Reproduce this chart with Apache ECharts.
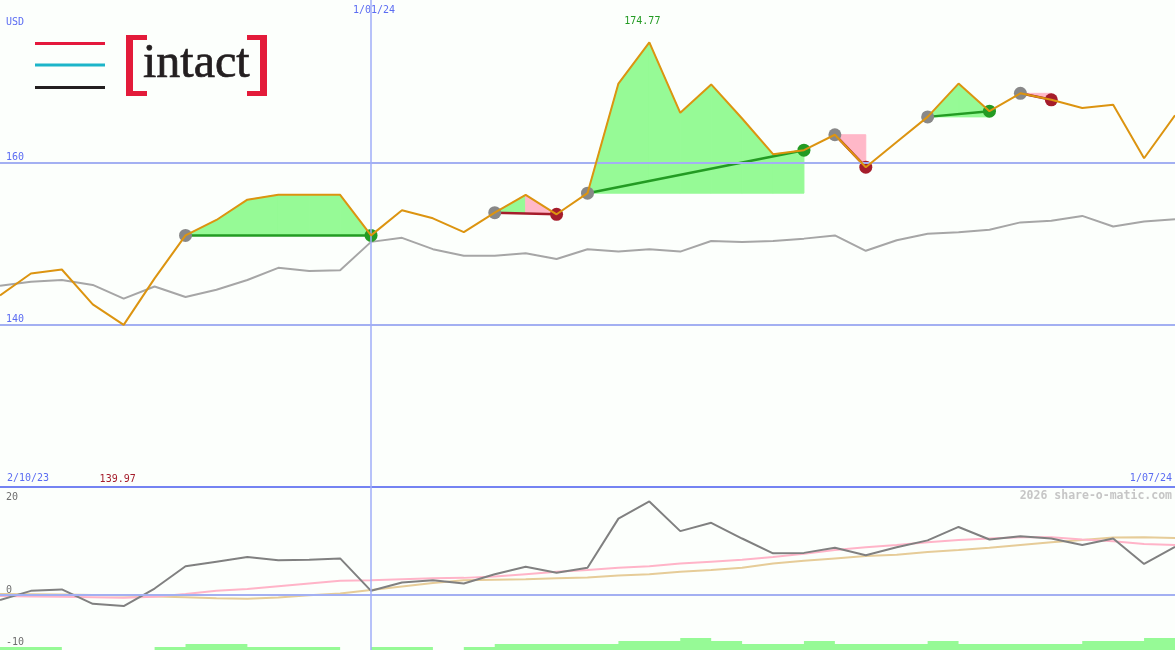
<!DOCTYPE html>
<html><head><meta charset="utf-8">
<script src="https://cdn.jsdelivr.net/npm/echarts@6/dist/echarts.min.js"></script>
<style>html,body{margin:0;padding:0;background:#fcfffc;}#c{width:1175px;height:650px;}</style>
</head><body><div id="c"></div><script>
// ---- data (weekly points, index 0..38) ----
const xTickIdx = [0, 38];
const xTickLbl = ['2/10/23', '1/07/24'];
const xMarkIdx = [12];
const xMarkLbl = ['1/01/24'];
const priceTicks = [140, 160];
const oscTicks = [20, 0, -10];
const price = [143.6, 146.3, 146.8, 142.5, 139.97, 145.7, 151.0, 152.9, 155.4, 156.0,
  156.0, 156.0, 151.0, 154.1, 153.1, 151.4, 153.8, 156.0, 153.6, 156.2,
  169.7, 174.77, 166.1, 169.6, 165.4, 161.0, 161.5, 163.4, 159.4, 162.5,
  165.6, 169.7, 166.3, 168.5, 167.7, 166.7, 167.1, 160.5, 165.8];
const avg = [144.8, 145.3, 145.5, 144.9, 143.2, 144.7, 143.4, 144.3, 145.5, 147.0,
  146.6, 146.7, 150.2, 150.7, 149.3, 148.5, 148.5, 148.8, 148.1, 149.3,
  149.0, 149.3, 149.0, 150.3, 150.2, 150.3, 150.6, 151.0, 149.1, 150.4,
  151.2, 151.4, 151.7, 152.6, 152.8, 153.4, 152.1, 152.7, 153.0];
const osc = [-1.1, 0.9, 1.2, -1.9, -2.4, 1.4, 6.2, 7.2, 8.2, 7.5,
  7.6, 7.9, 0.9, 2.7, 3.2, 2.5, 4.5, 6.1, 4.8, 5.9,
  16.5, 20.2, 13.8, 15.6, 12.2, 9.0, 9.1, 10.2, 8.6, 10.3,
  11.8, 14.7, 12.0, 12.7, 12.2, 10.8, 12.2, 6.7, 10.4];
const oscFast = [-0.2, -0.3, -0.4, -0.5, -0.6, -0.4, 0.2, 0.9, 1.3, 1.9,
  2.5, 3.1, 3.2, 3.4, 3.6, 3.7, 4.0, 4.5, 5.0, 5.4,
  5.9, 6.2, 6.8, 7.2, 7.6, 8.2, 8.9, 9.7, 10.3, 10.8,
  11.4, 11.9, 12.2, 12.5, 12.5, 12.0, 11.6, 11.0, 10.8];
const oscSlow = [0.2, 0.15, 0.1, 0.0, -0.1, -0.35, -0.5, -0.7, -0.8, -0.55,
  -0.05, 0.35, 1.1, 1.85, 2.6, 3.2, 3.3, 3.4, 3.6, 3.8,
  4.2, 4.5, 5.0, 5.4, 5.9, 6.8, 7.4, 7.9, 8.4, 8.7,
  9.3, 9.7, 10.2, 10.8, 11.4, 11.9, 12.4, 12.5, 12.3];
const volume = [1, 1, 0, 0, 0, 1, 2, 2, 1, 1, 1, 0, 1, 1, 0, 1, 2, 2, 2, 2,
  3, 3, 4, 3, 2, 2, 3, 2, 2, 2, 3, 2, 2, 2, 2, 3, 3, 4];
const tradeEntry = [6, 16, 19, 27, 30, 33];
const tradeExit = [12, 18, 26, 28, 32, 34];

// ---- styles ----
const MONO = "'DejaVu Sans Mono', monospace";
const BLUE = '#5b6cf2', GRIDC = '#a3b0f2', VLINE = '#a0aef8', WIN = '#239b23', LOSS = '#a51d2b';
const OS_MIN = -11.88, OS_MAX = 23.33;
const N = price.length - 1;
const oscLow = Math.min(...oscTicks);
const oscLabelPos = v => (v === oscLow ? OS_MIN + 0.5 : v); // lowest label sits at the panel bottom

const segs = [];
tradeEntry.forEach((e, k) => {
  for (let i = e; i < tradeExit[k]; i++) segs.push([i, i + 1, price[e], k]);
});
const tradeSeries = tradeEntry.map((e, k) => ({
  type: 'line', xAxisIndex: 0, yAxisIndex: 0, z: 3, symbol: 'none', silent: true,
  lineStyle: { width: 2.5, color: price[tradeExit[k]] >= price[e] ? WIN : LOSS },
  data: [[e, price[e]], [tradeExit[k], price[tradeExit[k]]]]
}));
const volData = volume.map((v, i) => [i, v]).concat([[N, volume[volume.length - 1]]]);

const chart = echarts.init(document.getElementById('c'), null, { renderer: 'canvas' });
chart.setOption({
  animation: false,
  backgroundColor: '#fcfffc',
  grid: [
    { left: 0, right: 0, top: -1, height: 488 },
    { left: 0, right: 0, top: 487, height: 163 }
  ],
  xAxis: [
    { gridIndex: 0, type: 'value', min: 0, max: N, position: 'bottom',
      axisLine: { show: true, lineStyle: { color: '#7483f2', width: 2 } },
      axisTick: { show: false }, splitLine: { show: false },
      axisLabel: { inside: true, margin: 4, customValues: xTickIdx,
        formatter: v => xTickLbl[xTickIdx.indexOf(v)], color: BLUE, fontFamily: MONO, fontSize: 10,
        alignMinLabel: 'left', alignMaxLabel: 'right', padding: [0, 3, 0, 7] } },
    { gridIndex: 0, type: 'value', min: 0, max: N, position: 'top',
      axisLine: { show: false }, axisTick: { show: false }, splitLine: { show: false },
      axisLabel: { inside: true, margin: 5, customValues: xMarkIdx,
        formatter: v => xMarkLbl[xMarkIdx.indexOf(v)], color: BLUE, fontFamily: MONO, fontSize: 10, padding: [0, 0, 0, 6] } },
    { gridIndex: 1, type: 'value', min: 0, max: N, show: false }
  ],
  yAxis: [
    { gridIndex: 0, type: 'value', min: 120, max: 180, position: 'left',
      axisLine: { show: false }, axisTick: { show: false }, splitLine: { show: false },
      axisLabel: { inside: true, margin: 6, customValues: priceTicks, verticalAlign: 'bottom',
        color: BLUE, fontFamily: MONO, fontSize: 10 },
      name: 'USD', nameLocation: 'end', nameGap: -27,
      nameTextStyle: { color: BLUE, fontFamily: MONO, fontSize: 10, align: 'left', padding: [0, 0, 0, 6] } },
    { gridIndex: 1, type: 'value', min: OS_MIN, max: OS_MAX, position: 'left',
      axisLine: { show: false }, axisTick: { show: false }, splitLine: { show: false },
      axisLabel: { inside: true, margin: 6, verticalAlign: 'bottom',
        customValues: oscTicks.map(oscLabelPos),
        formatter: v => String(oscTicks.find(t => Math.abs(oscLabelPos(t) - v) < 1e-6)),
        color: '#6e6e6e', fontFamily: MONO, fontSize: 10 } },
    { gridIndex: 1, type: 'value', min: 0, max: 54, show: false }
  ],
  graphic: [
    { type: 'rect', shape: { x: 35, y: 42, width: 70, height: 3 }, style: { fill: '#e4183c' } },
    { type: 'rect', shape: { x: 35, y: 63.5, width: 70, height: 3 }, style: { fill: '#1cb5c9' } },
    { type: 'rect', shape: { x: 35, y: 86, width: 70, height: 3 }, style: { fill: '#231f20' } },
    { type: 'rect', shape: { x: 126, y: 35, width: 7, height: 61 }, style: { fill: '#e31b3a' } },
    { type: 'rect', shape: { x: 126, y: 35, width: 21, height: 5 }, style: { fill: '#e31b3a' } },
    { type: 'rect', shape: { x: 126, y: 91, width: 21, height: 5 }, style: { fill: '#e31b3a' } },
    { type: 'rect', shape: { x: 260, y: 35, width: 7, height: 61 }, style: { fill: '#e31b3a' } },
    { type: 'rect', shape: { x: 247, y: 35, width: 20, height: 5 }, style: { fill: '#e31b3a' } },
    { type: 'rect', shape: { x: 247, y: 91, width: 20, height: 5 }, style: { fill: '#e31b3a' } },
    { type: 'text', style: { text: 'intact', x: 143, y: 64, fill: '#231f20', stroke: '#231f20', lineWidth: 0.7,
      font: '48px "Liberation Serif"', verticalAlign: 'middle', align: 'left' } },
    { type: 'text', style: { text: '2026 share-o-matic.com', x: 1172, y: 496, fill: '#c6c6c6',
      font: "bold 11.5px 'DejaVu Sans Mono'", align: 'right', verticalAlign: 'middle' } }
  ],
  series: [
    { type: 'line', xAxisIndex: 0, yAxisIndex: 0, z: 0, data: [], silent: true,
      markLine: { silent: true, symbol: 'none', label: { show: false },
        data: priceTicks.map(v => ({ yAxis: v, lineStyle: { color: GRIDC, width: 2, type: 'solid' } }))
          .concat(xMarkIdx.map(v => ({ xAxis: v, lineStyle: { color: VLINE, width: 1.5, type: 'solid' } }))) } },
    { type: 'custom', xAxisIndex: 0, yAxisIndex: 0, z: 1, silent: true,
      encode: { x: [0, 1], y: 2 }, data: segs,
      renderItem: (params, api) => {
        const x0 = api.value(0), x1 = api.value(1), e = api.value(2);
        const pts = [api.coord([x0, price[x0]]), api.coord([x1, price[x1]]), api.coord([x1, e]), api.coord([x0, e])];
        const col = price[x1] >= e ? '#96fa96' : '#ffb8c8';
        return { type: 'polygon', shape: { points: pts },
          style: { fill: col, stroke: col, lineWidth: 1 } };
      } },
    { type: 'line', xAxisIndex: 0, yAxisIndex: 0, z: 2, symbol: 'none', silent: true,
      lineStyle: { color: '#a6a6a6', width: 2 }, data: avg.map((v, i) => [i, v]) },
    ...tradeSeries,
    { type: 'scatter', xAxisIndex: 0, yAxisIndex: 0, z: 4, symbolSize: 13, silent: true,
      itemStyle: { color: '#888888', opacity: 1 }, data: tradeEntry.map(i => [i, price[i]]) },
    { type: 'scatter', xAxisIndex: 0, yAxisIndex: 0, z: 4, symbolSize: 13, silent: true,
      itemStyle: { opacity: 1, color: p => price[p.value[0]] >= price[tradeEntry[p.dataIndex]] ? WIN : LOSS },
      data: tradeExit.map(i => [i, price[i]]) },
    { type: 'line', xAxisIndex: 0, yAxisIndex: 0, z: 5, symbol: 'none', silent: true,
      lineStyle: { color: '#dc9410', width: 2 }, data: price.map((v, i) => [i, v]),
      markPoint: { symbolSize: 0, silent: true,
        label: { show: true, fontFamily: MONO, fontSize: 10, formatter: p => p.value.toFixed(2) },
        data: [
          { type: 'max', valueDim: 'y', label: { color: WIN, offset: [-7, -21] } },
          { type: 'min', valueDim: 'y', label: { color: LOSS, offset: [-6, 154] } }
        ] } },
    // lower panel
    { type: 'line', xAxisIndex: 2, yAxisIndex: 2, z: 1, symbol: 'none', silent: true, step: 'end',
      lineStyle: { width: 0 }, areaStyle: { color: '#96fa96', opacity: 1 }, data: volData },
    { type: 'line', xAxisIndex: 2, yAxisIndex: 1, z: 0, data: [], silent: true,
      markLine: { silent: true, symbol: 'none', label: { show: false },
        data: [{ yAxis: 0, lineStyle: { color: GRIDC, width: 2, type: 'solid' } }]
          .concat(xMarkIdx.map(v => ({ xAxis: v, lineStyle: { color: VLINE, width: 1.5, type: 'solid' } }))) } },
    { type: 'line', xAxisIndex: 2, yAxisIndex: 1, z: 2, symbol: 'none', silent: true,
      lineStyle: { color: '#e6cc98', width: 2 }, data: oscSlow.map((v, i) => [i, v]) },
    { type: 'line', xAxisIndex: 2, yAxisIndex: 1, z: 3, symbol: 'none', silent: true,
      lineStyle: { color: '#ffb4c8', width: 2 }, data: oscFast.map((v, i) => [i, v]) },
    { type: 'line', xAxisIndex: 2, yAxisIndex: 1, z: 4, symbol: 'none', silent: true,
      lineStyle: { color: '#808080', width: 2 }, data: osc.map((v, i) => [i, v]) }
  ]
});
</script></body></html>
